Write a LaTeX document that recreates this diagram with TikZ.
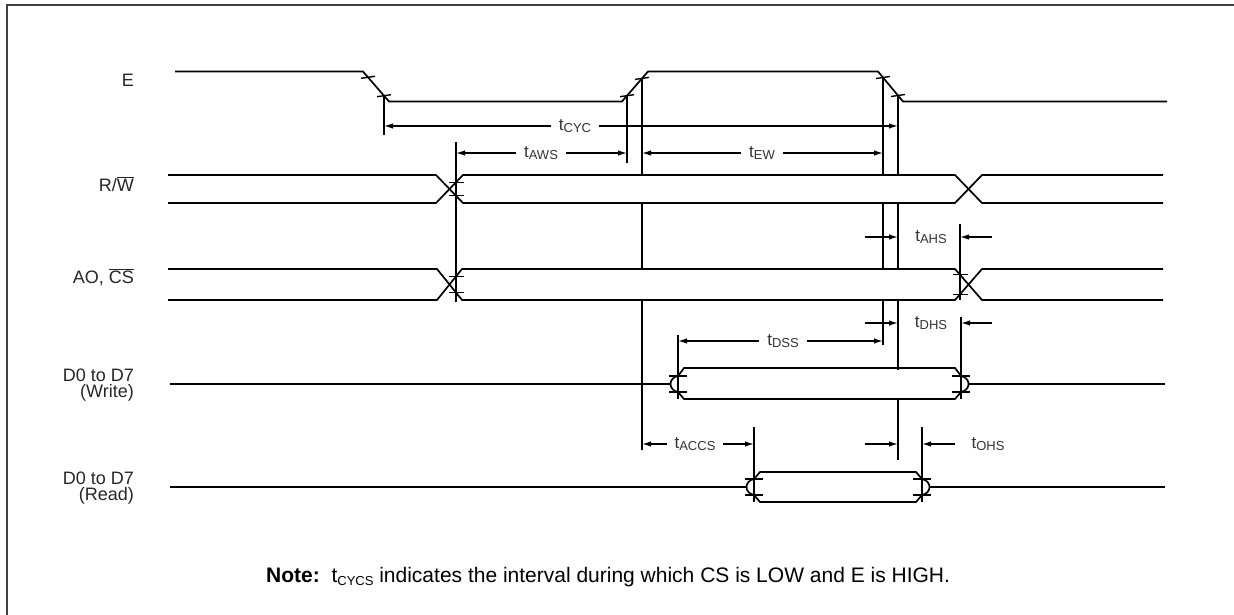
\documentclass[tikz,border=0pt]{standalone}
\usepackage{fontspec}
\setmainfont{Liberation Sans}
\usetikzlibrary{arrows.meta}
\newcommand\tlab[1]{t\raisebox{-2.5pt}{\fontsize{13}{13}\selectfont #1}}
\newcommand\tnote[1]{t\raisebox{-3pt}{\fontsize{13}{13}\selectfont #1}}
\newcommand\ovl[1]{$\overline{\mbox{#1}}$}
\begin{document}
\begin{tikzpicture}[x=1pt,y=-1pt,
  sig/.style={line width=1.7pt, line join=miter},
  vline/.style={line width=1.6pt},
  tk/.style={line width=1.4pt},
  dim/.style={line width=1.4pt, -{Latex[length=9pt,width=5.5pt]}},
  dimb/.style={line width=1.4pt, {Latex[length=9pt,width=5.5pt]}-{Latex[length=9pt,width=5.5pt]}},
  lbl/.style={font=\fontsize{18}{16}\selectfont, align=right, anchor=east, text=black!85, inner sep=0pt},
  tl/.style={font=\fontsize{17}{18}\selectfont, fill=white, inner xsep=8pt, inner ysep=2pt, text=black!80},
  tlb/.style={font=\fontsize{17}{18}\selectfont, inner sep=0pt, text=black!80},
]
\useasboundingbox (0,0) rectangle (1234,614);
% frame
\draw[line width=2pt, black!75] (7,640) -- (7,5) -- (1250,5);

% signal labels
\node[lbl] (lE) at (134,80) {E};
\node[lbl] (lRW) at (134,184) {R/\ovl{W}};
\node[lbl] (lAO) at (134,277) {AO, \ovl{CS}};
\node[lbl] (lDW) at (134,385) {D0 to D7\\(Write)};
\node[lbl] (lDR) at (134,488) {D0 to D7\\(Read)};

% timing reference verticals
\draw[vline] (384,95.7) -- (384,135);
\draw[vline] (456,142) -- (456,302);
\draw[vline] (627,95.7) -- (627,163);
\draw[vline] (642,78.4) -- (642,450);
\draw[vline] (883,77.5) -- (883,345);
\draw[vline] (898,95.5) -- (898,460);
\draw[vline] (960,224) -- (960,300);
\draw[vline] (961,317) -- (961,399);
\draw[vline] (678,335) -- (678,399);
\draw[vline] (754,427) -- (754,502);
\draw[vline] (922,427) -- (922,502);

% blank interiors of buses
\fill[white] (463,176) rectangle (955,202);
\fill[white] (462,270) rectangle (955,299);
\fill[white] (684,369.5) rectangle (955,397.5);
\fill[white] (760,473.5) rectangle (916,500.5);

% E
\draw[sig] (175,71.5) -- (363,71.5) -- (389,101.5) -- (622,101.5) -- (648,71.5) -- (878,71.5) -- (903,101.5) -- (1167,101.5);
\foreach \x/\y in {368/77.3,384/95.7,627/95.7,642/78.4,883/77.5,898/95.5}
  \draw[tk] (\x-7,\y+1) -- (\x+7,\y-1);

% R/W
\draw[sig] (168,175) -- (436,175) -- (463,203) -- (955,203) -- (982,175) -- (1163,175);
\draw[sig] (168,203) -- (436,203) -- (463,175) -- (955,175) -- (982,203) -- (1163,203);
\foreach \y in {182.3,195.7}
  \draw[tk] (449,\y) -- (464,\y);

% AO, CS
\draw[sig] (168,269) -- (437,269) -- (462,300) -- (955,300) -- (982,269) -- (1163,269);
\draw[sig] (168,300) -- (437,300) -- (462,269) -- (955,269) -- (982,300) -- (1163,300);
\foreach \y in {276.4,292.6}
  \draw[tk] (449,\y) -- (464,\y);
\foreach \y in {274.7,294.3}
  \draw[tk] (953,\y) -- (968,\y);

% D0-D7 write
\draw[sig] (170,384) -- (671,384);
\draw[sig] (968,384) -- (1165,384);
\draw[sig] (678,376) -- (684,368) -- (955,368) -- (961,376);
\draw[sig] (678,392) -- (684,399) -- (955,399) -- (961,392);
\draw[sig] (678,376) .. controls (668,378) and (668,390) .. (678,392);
\draw[sig] (961,376) .. controls (971,378) and (971,390) .. (961,392);
\foreach \x in {678,961}
  \foreach \y in {376,392}
    \draw[tk] (\x-9,\y) -- (\x+9,\y);

% D0-D7 read
\draw[sig] (170,487) -- (747,487);
\draw[sig] (929,487) -- (1165,487);
\draw[sig] (754,479) -- (760,472) -- (916,472) -- (922,479);
\draw[sig] (754,495) -- (760,502) -- (916,502) -- (922,495);
\draw[sig] (754,479) .. controls (744,481) and (744,493) .. (754,495);
\draw[sig] (922,479) .. controls (932,481) and (932,493) .. (922,495);
\foreach \x in {754,922}
  \foreach \y in {479,495}
    \draw[tk] (\x-9,\y) -- (\x+9,\y);

% dimensions
\draw[dimb] (384,126) -- (898,126);
\node[tl] (tcyc) at (575,126) {\tlab{CYC}};
\draw[dimb] (456,153) -- (627,153);
\node[tl] (taws) at (541,153) {\tlab{AWS}};
\draw[dimb] (642,153) -- (883,153);
\node[tl] (tew) at (762,153) {\tlab{EW}};
\draw[dimb] (678,341) -- (883,341);
\node[tl] (tdss) at (783,341) {\tlab{DSS}};
\draw[dimb] (642,444) -- (754,444);
\node[tl] (taccs) at (695,444) {\tlab{ACCS}};

\draw[dim] (865,237) -- (898,237);
\draw[dim] (992,237) -- (960,237);
\node[tlb] (tahs) at (931,237) {\tlab{AHS}};
\draw[dim] (865,323) -- (898,323);
\draw[dim] (992,323) -- (961,323);
\node[tlb] (tdhs) at (931,323) {\tlab{DHS}};
\draw[dim] (865,444) -- (898,444);
\draw[dim] (955,444) -- (922,444);
\node[tlb] (tohs) at (988,444) {\tlab{OHS}};

% note
\node[anchor=west, inner sep=0pt, font=\fontsize{21}{23}\selectfont] (note) at (266,577)
  {\textbf{Note:}\ \ \tnote{CYCS} indicates the interval during which CS is LOW and E is HIGH.};
\end{tikzpicture}
\end{document}
